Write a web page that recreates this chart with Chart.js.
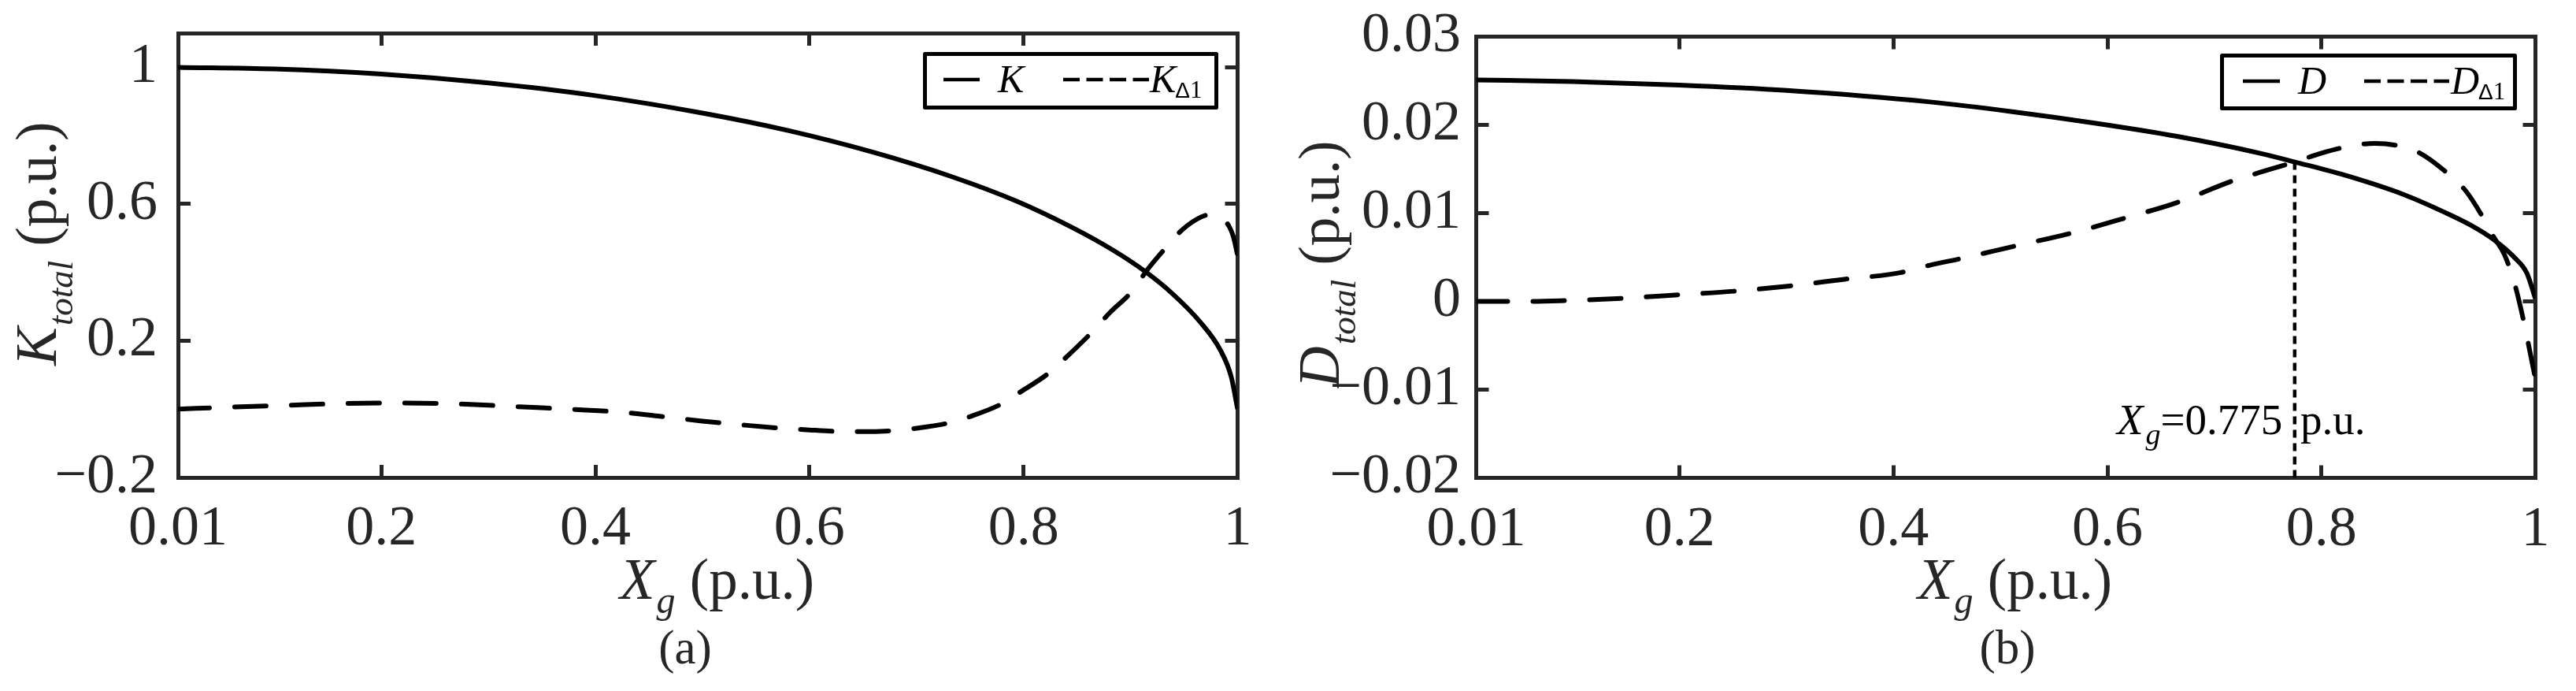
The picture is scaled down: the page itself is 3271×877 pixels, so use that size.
<!DOCTYPE html>
<html>
<head>
<meta charset="utf-8">
<script src="https://cdn.jsdelivr.net/npm/chart.js@4.4.1/dist/chart.umd.min.js"></script>
<style>
  html, body { margin: 0; padding: 0; background: #fff; width: 3271px; height: 877px; overflow: hidden; }
  canvas { position: absolute; top: 0; display: block; }
</style>
</head>
<body>
<canvas id="ca" width="1600" height="877" style="left:0px"></canvas>
<canvas id="cb" width="1671" height="877" style="left:1600px"></canvas>
<script>
// ---------------- data ----------------
const xTicks = [0.01, 0.2, 0.4, 0.6, 0.8, 1];
const xTickLabels = ['0.01', '0.2', '0.4', '0.6', '0.8', '1'];
const kYTicks = [-0.2, 0.2, 0.6, 1];
const kYTickLabels = ['\u22120.2', '0.2', '0.6', '1'];
const dYTicks = [-0.02, -0.01, 0, 0.01, 0.02, 0.03];
const dYTickLabels = ['\u22120.02', '\u22120.01', '0', '0.01', '0.02', '0.03'];

// (a) K (solid)
const kX    = [0.01, 0.1, 0.2, 0.3, 0.4, 0.5, 0.58, 0.66, 0.733, 0.793, 0.845, 0.883, 0.913, 0.939, 0.965, 0.984, 0.994, 1.0];
const kVals = [1.0, 0.995, 0.98, 0.954, 0.917, 0.866, 0.815, 0.751, 0.68, 0.609, 0.532, 0.466, 0.404, 0.338, 0.255, 0.172, 0.095, 0.0];
// (a) K_delta1 (dashed)
const kdX    = [0.01, 0.06, 0.114, 0.167, 0.219, 0.272, 0.328, 0.381, 0.432, 0.46, 0.5, 0.54, 0.57, 0.6, 0.624, 0.65, 0.678, 0.7, 0.731, 0.75, 0.78, 0.795, 0.823, 0.84, 0.862, 0.88, 0.902, 0.915, 0.932, 0.945, 0.96, 0.973, 0.98, 0.986, 0.992, 0.996, 1.0];
const kdVals = [0.0, 0.006, 0.0115, 0.0165, 0.018, 0.015, 0.007, -0.001, -0.011, -0.021, -0.035, -0.047, -0.055, -0.061, -0.065, -0.066, -0.063, -0.056, -0.04, -0.022, 0.016, 0.046, 0.104, 0.152, 0.219, 0.28, 0.347, 0.405, 0.469, 0.515, 0.552, 0.568, 0.566, 0.556, 0.535, 0.505, 0.45];
// (b) D (solid)
const dX    = [0.01, 0.1, 0.2, 0.3, 0.434, 0.511, 0.588, 0.665, 0.742, 0.775, 0.819, 0.877, 0.915, 0.94, 0.961, 0.981, 0.992, 1.0];
const dVals = [0.0251, 0.0249, 0.0245, 0.0239, 0.0226, 0.0215, 0.0202, 0.0187, 0.0168, 0.0158, 0.0144, 0.0121, 0.0101, 0.0086, 0.007, 0.0049, 0.0032, 0.0003];
// (b) D_delta1 (dashed)
const ddX    = [0.01, 0.063, 0.095, 0.147, 0.199, 0.251, 0.303, 0.354, 0.406, 0.434, 0.461, 0.511, 0.565, 0.618, 0.665, 0.718, 0.742, 0.775, 0.8, 0.819, 0.85, 0.873, 0.892, 0.915, 0.935, 0.952, 0.961, 0.971, 0.981, 0.99, 0.995, 1.0];
const ddVals = [0.0, 0.0, 0.0001, 0.00035, 0.00075, 0.00115, 0.00175, 0.0025, 0.00325, 0.0041, 0.0048, 0.0062, 0.0077, 0.0095, 0.0112, 0.0137, 0.0146, 0.0158, 0.0168, 0.0174, 0.0179, 0.0176, 0.0168, 0.0148, 0.0125, 0.0093, 0.0073, 0.0053, 0.0018, -0.0028, -0.0058, -0.0088];
// (b) dotted marker at Xg = 0.775
const markX = [0.775, 0.775];
const markY = [0.0158, -0.02];

// ---------------- styling ----------------
const SERIF = '"Liberation Serif", "Times New Roman", serif';
const SANS = '"Liberation Sans", Arial, sans-serif';
const AX = '#262626';
const INK = '#000000';

const pts = (xs, ys) => xs.map((x, i) => ({ x: x, y: ys[i] }));

function drawRuns(ctx, x, y, runs) {
  let cx = x;
  for (const r of runs) {
    ctx.font = r.f;
    cx += (r.dx || 0);
    ctx.fillText(r.t, cx, y + (r.dy || 0));
    cx += ctx.measureText(r.t).width;
  }
  return cx;
}

const decor = {
  id: 'decor',
  afterDraw(chart, args, o) {
    const ctx = chart.ctx;
    const a = chart.chartArea;
    ctx.save();
    ctx.fillStyle = AX;
    ctx.textBaseline = 'alphabetic';
    ctx.textAlign = 'left';
    // x-axis title
    const cx = (a.left + a.right) / 2;
    drawRuns(ctx, cx + o.xTitleDx, o.xTitleBase, [
      { t: 'X', f: 'italic 73px ' + SERIF },
      { t: 'g', f: 'italic 48px ' + SERIF, dy: 18, dx: 2 },
      { t: ' (p.u.)', f: '73px ' + SERIF }
    ]);
    // y-axis title (rotated)
    ctx.save();
    ctx.translate(o.yTitleX, o.yTitleY);
    ctx.rotate(-Math.PI / 2);
    drawRuns(ctx, 0, 0, [
      { t: o.letter, f: 'italic 73px ' + SERIF },
      { t: 'total', f: 'italic 45px ' + SERIF, dy: 21, dx: 2 },
      { t: ' (p.u.)', f: '73px ' + SERIF }
    ]);
    ctx.restore();
    // caption
    ctx.font = '61px ' + SERIF;
    ctx.textAlign = 'center';
    ctx.fillText(o.caption, o.capX, o.capBase);
    ctx.textAlign = 'left';
    // legend
    const L = o.legend;
    ctx.lineWidth = 5;
    ctx.strokeStyle = INK;
    ctx.lineJoin = 'round';
    ctx.strokeRect(L.l, L.t, L.r - L.l, L.b - L.t);
    ctx.lineWidth = 4.5;
    ctx.beginPath();
    ctx.moveTo(L.s0, L.ly); ctx.lineTo(L.s1, L.ly); ctx.stroke();
    ctx.setLineDash([21, 8.5]);
    ctx.beginPath();
    ctx.moveTo(L.d0, L.ly); ctx.lineTo(L.d1, L.ly); ctx.stroke();
    ctx.setLineDash([]);
    ctx.fillStyle = INK;
    drawRuns(ctx, L.t1, L.base, [{ t: o.letter, f: 'italic 50px ' + SERIF }]);
    drawRuns(ctx, L.t2, L.base, [
      { t: o.letter, f: 'italic 50px ' + SERIF },
      { t: '\u0394', f: '28px ' + SANS, dy: 7, dx: -1 },
      { t: '1', f: '31px ' + SERIF, dy: 7 }
    ]);
    // annotation
    if (o.annot) {
      drawRuns(ctx, o.annot.x, o.annot.base, [
        { t: 'X', f: 'italic 55px ' + SERIF },
        { t: 'g', f: 'italic 38px ' + SERIF, dy: 13, dx: 3 },
        { t: '=0.775', f: '55px ' + SERIF },
        { t: ' p.u.', f: '55px ' + SERIF, dx: 9 }
      ]);
    }
    ctx.restore();
  }
};

function scalesFor(yMin, yMax, yTicks, yLabels, yW, xH, yPad) {
  const fit = (w, h) => (s) => {
    if (w !== null) s.width = w;
    if (h !== null) s.height = h;
    s.paddingLeft = 0; s.paddingRight = 0; s.paddingTop = 0; s.paddingBottom = 0;
  };
  const setTicks = (vals) => (s) => { s.ticks = vals.map(v => ({ value: v })); };
  const grid = () => ({ drawOnChartArea: false, drawTicks: true, tickLength: -16, tickWidth: 5, tickColor: AX, lineWidth: 5, color: AX });
  const border = () => ({ display: true, color: AX, width: 5 });
  const font = { family: SERIF, size: 72 };
  return {
    x: {
      type: 'linear', position: 'bottom', min: xTicks[0], max: xTicks[xTicks.length - 1],
      grid: grid(), border: border(),
      ticks: { font: font, color: AX, padding: 39, maxRotation: 0, minRotation: 0, autoSkip: false,
               callback: (v, i) => xTickLabels[i] },
      afterBuildTicks: setTicks(xTicks), afterFit: fit(null, xH)
    },
    x2: {
      type: 'linear', position: 'top', min: xTicks[0], max: xTicks[xTicks.length - 1],
      grid: grid(), border: border(), ticks: { display: false },
      afterBuildTicks: setTicks(xTicks), afterFit: fit(null, 0)
    },
    y: {
      type: 'linear', position: 'left', min: yMin, max: yMax,
      grid: grid(), border: border(),
      ticks: { font: font, color: AX, padding: yPad, autoSkip: false, callback: (v, i) => yLabels[i] },
      afterBuildTicks: setTicks(yTicks), afterFit: fit(yW, null)
    },
    y2: {
      type: 'linear', position: 'right', min: yMin, max: yMax,
      grid: grid(), border: border(), ticks: { display: false },
      afterBuildTicks: setTicks(yTicks), afterFit: fit(0, null)
    }
  };
}

function lineDs(xs, ys, dashed) {
  return {
    data: pts(xs, ys), xAxisID: 'x', yAxisID: 'y',
    borderColor: INK, borderWidth: 6, pointRadius: 0, fill: false,
    cubicInterpolationMode: 'monotone',
    borderDash: dashed ? [40, 32] : [], borderCapStyle: dashed ? 'round' : 'butt',
    borderJoinStyle: 'round'
  };
}

const baseOpts = (scales, padding, decorOpts) => ({
  responsive: false, maintainAspectRatio: false, animation: false, events: [],
  layout: { padding: padding },
  scales: scales,
  plugins: { legend: { display: false }, tooltip: { enabled: false }, decor: decorOpts }
});

new Chart(document.getElementById('ca'), {
  type: 'line',
  data: { datasets: [lineDs(kX, kVals, false), lineDs(kdX, kdVals, true)] },
  options: baseOpts(
    scalesFor(-0.2, 1.1, kYTicks, kYTickLabels, 226, 271, 42),
    { left: 0, top: 42, right: 28.5, bottom: 0 },
    { letter: 'K', xTitleDx: -111.75, xTitleBase: 760, yTitleX: 71, yTitleY: 464,
      caption: '(a)', capX: 870, capBase: 842,
      legend: { l: 1174.5, t: 68.5, r: 1544.5, b: 136.5, s0: 1198, s1: 1244, ly: 101,
                d0: 1350, d1: 1459, t1: 1267, t2: 1460, base: 117 } }
  ),
  plugins: [decor]
});

const markDs = {
  data: pts(markX, markY), xAxisID: 'x', yAxisID: 'y',
  borderColor: INK, borderWidth: 4.5, pointRadius: 0, fill: false,
  borderDash: [10, 7], borderCapStyle: 'butt'
};

new Chart(document.getElementById('cb'), {
  type: 'line',
  data: { datasets: [lineDs(dX, dVals, false), lineDs(ddX, ddVals, true), markDs] },
  options: baseOpts(
    scalesFor(-0.02, 0.03, dYTicks, dYTickLabels, 274.5, 270.5, 35.5),
    { left: 0, top: 46.5, right: 51.5, bottom: 0 },
    { letter: 'D', xTitleDx: -112, xTitleBase: 760, yTitleX: 100, yTitleY: 492,
      caption: '(b)', capX: 949, capBase: 842,
      legend: { l: 1221.5, t: 70.5, r: 1593.5, b: 137.5, s0: 1248, s1: 1295, ly: 103,
                d0: 1402, d1: 1510, t1: 1318, t2: 1512, base: 119 },
      annot: { x: 1088, base: 551 } }
  ),
  plugins: [decor]
});
</script>
</body>
</html>
